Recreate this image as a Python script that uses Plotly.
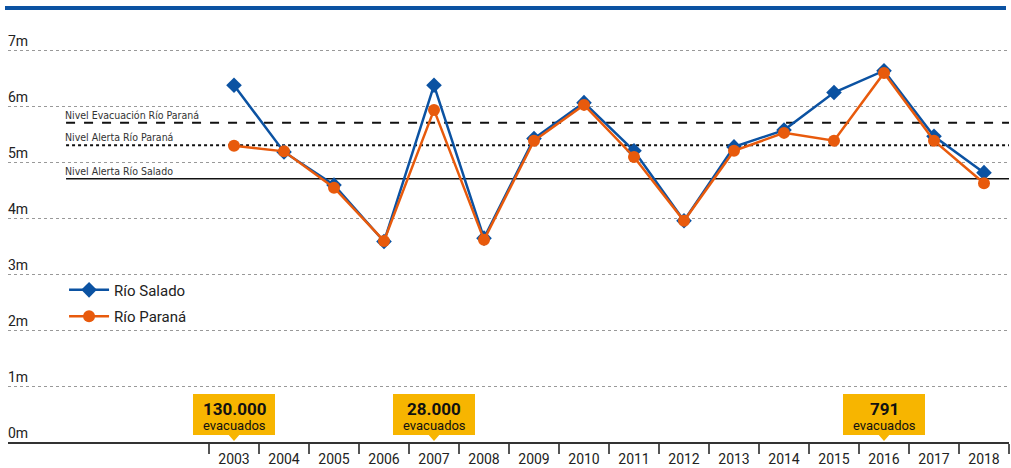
import plotly.graph_objects as go

years = list(range(2003, 2019))
rio_salado = [6.37, 5.18, 4.59, 3.58, 6.37, 3.64, 5.42, 6.06, 5.20, 3.95, 5.27, 5.57, 6.24, 6.63, 5.46, 4.81]
rio_parana = [5.29, 5.19, 4.54, 3.59, 5.93, 3.61, 5.38, 6.02, 5.09, 3.95, 5.20, 5.52, 5.38, 6.59, 5.38, 4.62]

threshold_names = ["Nivel Evacuación Río Paraná", "Nivel Alerta Río Paraná", "Nivel Alerta Río Salado"]
threshold_values = [5.70, 5.30, 4.70]

evac_years = [2003, 2007, 2016]
evac_counts = ["130.000", "28.000", "791"]

y_ticks = [0, 1, 2, 3, 4, 5, 6, 7]
y_tick_labels = ["0m", "1m", "2m", "3m", "4m", "5m", "6m", "7m"]

BLUE = "#0b52a2"
ORANGE = "#e85a0c"
YELLOW = "#f7b500"
TXT = "#222222"
FONT = "Roboto, DejaVu Sans, sans-serif"
COND = "DejaVu Sans Condensed, Liberation Sans Narrow, Roboto, sans-serif"

fig = go.Figure()
fig.add_trace(go.Scatter(
    x=years, y=rio_salado, name="Río Salado", mode="lines+markers", legendgroup="s",
    line=dict(color=BLUE, width=2.5),
    marker=dict(symbol="diamond", size=12, color=BLUE)))
fig.add_trace(go.Scatter(
    x=years, y=rio_parana, name="Río Paraná", mode="lines+markers", legendgroup="p",
    line=dict(color=ORANGE, width=2.5),
    marker=dict(symbol="circle", size=12, color=ORANGE)))

shapes = []
annotations = []

# top blue bar
shapes.append(dict(type="line", xref="paper", yref="paper", x0=-0.003, x1=0.997, y0=1.0, y1=1.0,
                   line=dict(color=BLUE, width=4)))

# threshold lines
dashes = ["dash", "dot", "solid"]
widths = [2, 2, 1.5]
for name, val, d, w in zip(threshold_names, threshold_values, dashes, widths):
    shapes.append(dict(type="line", xref="paper", yref="y", x0=0.058, x1=1.0, y0=val, y1=val,
                       line=dict(color="#111111", width=w, dash=d), layer="below"))
    annotations.append(dict(xref="paper", yref="y", x=0.058, y=val, text=name, showarrow=False,
                            xanchor="left", yanchor="bottom", yshift=0, xshift=-3,
                            font=dict(family=COND, size=10.5, color="#333333")))

# y labels above gridlines
for v, lab in zip(y_ticks, y_tick_labels):
    annotations.append(dict(xref="paper", yref="y", x=0.0, y=v, text=lab, showarrow=False,
                            xanchor="left", yanchor="bottom", yshift=-1, xshift=-2,
                            font=dict(family=FONT, size=14, color=TXT)))

# evacuation callouts
for yr, cnt in zip(evac_years, evac_counts):
    shapes.append(dict(type="rect", xref="x", yref="y", x0=yr - 0.82, x1=yr + 0.82, y0=0.125, y1=0.857,
                       fillcolor=YELLOW, line=dict(width=0), layer="above"))
    shapes.append(dict(type="path", xref="x", yref="y",
                       path=f"M {yr-0.11},0.13 L {yr+0.11},0.13 L {yr},0.02 Z",
                       fillcolor=YELLOW, line=dict(width=0), layer="above"))
    annotations.append(dict(xref="x", yref="y", x=yr, y=0.59, text=f"<b>{cnt}</b>", showarrow=False,
                            xanchor="center", yanchor="middle",
                            font=dict(family=FONT, size=17, color="#111111")))
    annotations.append(dict(xref="x", yref="y", x=yr, y=0.30, text="evacuados", showarrow=False,
                            xanchor="center", yanchor="middle",
                            font=dict(family=FONT, size=13, color="#111111")))

fig.update_layout(
    width=1011, height=468,
    margin=dict(l=8, r=2, t=8, b=26, autoexpand=False),
    paper_bgcolor="white", plot_bgcolor="white",
    shapes=shapes, annotations=annotations,
    showlegend=True,
    legend=dict(x=0.056, y=0.388, xanchor="left", yanchor="top",
                font=dict(family=FONT, size=15, color=TXT),
                bgcolor="rgba(0,0,0,0)", itemwidth=40, tracegroupgap=4),
    xaxis=dict(range=[1998.48, 2018.5], tickmode="array", tickvals=years,
               ticktext=[str(y) for y in years], ticks="", showgrid=False,
               showline=True, linecolor="#333333", linewidth=1.5, automargin=False,
               tickfont=dict(family=FONT, size=14, color=TXT), ticklabelstandoff=3,
               zeroline=False,
               minor=dict(tickmode="array", tickvals=[y + 0.5 for y in [2002] + years],
                          ticks="outside", ticklen=10, tickcolor="#555555", tickwidth=1.5,
                          showgrid=False)),
    yaxis=dict(range=[0, 7.75], tickmode="array", tickvals=y_ticks[1:], showticklabels=False,
               showgrid=True, gridcolor="#999999", griddash="dot", gridwidth=1, automargin=False,
               zeroline=False, showline=False, ticks=""),
)

fig.write_html("out.html", config={"displayModeBar": False},
               post_script="document.body.style.margin='0';document.body.style.padding='0';")
